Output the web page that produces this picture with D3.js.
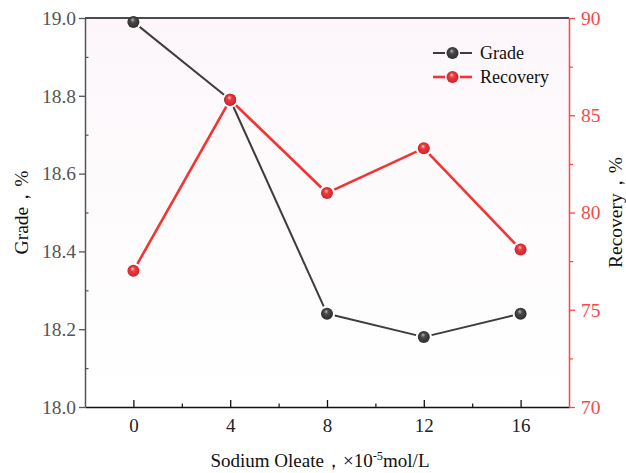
<!DOCTYPE html>
<html>
<head>
<meta charset="utf-8">
<script src="https://cdn.jsdelivr.net/npm/d3@7"></script>
<style>
  html, body { margin: 0; padding: 0; background: #fff; }
  svg text { font-family: "Liberation Serif", "Times New Roman", "DejaVu Serif", serif; }
</style>
</head>
<body>
<svg id="chart" width="626" height="473"></svg>
<script>
// Dosage of sodium oleate (×10^-5 mol/L)
const dosage = [0, 4, 8, 12, 16];
// Concentrate grade, %
const grade = [18.99, 18.79, 18.24, 18.18, 18.24];
// Recovery, %
const recovery = [77.0, 85.8, 81.0, 83.3, 78.1];

const xTicks = [0, 4, 8, 12, 16];
const gradeTicks = [18.0, 18.2, 18.4, 18.6, 18.8, 19.0];
const recoveryTicks = [70, 75, 80, 85, 90];
const seriesNames = ["Grade", "Recovery"];

const FONT = '"Liberation Serif", "Times New Roman", "DejaVu Serif", serif';
const svg = d3.select("#chart");
const m = { left: 85, right: 569, top: 18, bottom: 407 };

const x = d3.scaleLinear().domain([-2, 18]).range([m.left, m.right]);
const yL = d3.scaleLinear().domain([18.0, 19.0]).range([m.bottom, m.top]);
const yR = d3.scaleLinear().domain([70, 90]).range([m.bottom, m.top]);

const greyCol = "#3d3d3d";
const redCol = "#f23434";
const axisRed = "#f74848";

// Plot background: faint pink fading to white
const defs = svg.append("defs");
const bg = defs.append("linearGradient").attr("id", "bgGrad")
  .attr("x1", 0).attr("y1", 0).attr("x2", 0).attr("y2", 1);
bg.append("stop").attr("offset", "0%").attr("stop-color", "#fcf6fa");
bg.append("stop").attr("offset", "55%").attr("stop-color", "#fefcfd");
bg.append("stop").attr("offset", "100%").attr("stop-color", "#ffffff");

function sphere(id, base, light, dark) {
  const g = defs.append("radialGradient").attr("id", id)
    .attr("cx", "50%").attr("cy", "50%").attr("r", "55%")
    .attr("fx", "42%").attr("fy", "30%");
  g.append("stop").attr("offset", "0%").attr("stop-color", light);
  g.append("stop").attr("offset", "35%").attr("stop-color", base);
  g.append("stop").attr("offset", "100%").attr("stop-color", dark);
}
sphere("ballGrey", "#4a4a4a", "#b8b8b8", "#2a2a2a");
sphere("ballRed", "#ec3a3e", "#ffc4c4", "#c8222a");

svg.append("rect")
  .attr("x", m.left).attr("y", m.top)
  .attr("width", m.right - m.left).attr("height", m.bottom - m.top)
  .attr("fill", "url(#bgGrad)");

// Bottom axis: ticks pointing inward
const xAxis = svg.append("g").attr("transform", `translate(0,${m.bottom})`)
  .call(d3.axisBottom(x).tickValues(xTicks).tickSize(-7).tickSizeOuter(0).tickFormat(d3.format("d")));
xAxis.attr("font-family", FONT);
xAxis.select(".domain").attr("stroke", "#111").attr("stroke-width", 1.5);
xAxis.selectAll(".tick line").attr("stroke", "#111").attr("stroke-width", 1.3);
xAxis.selectAll(".tick text").attr("y", 12).attr("dy", "0.71em")
  .attr("font-size", 19).attr("fill", "#222");
svg.append("g").attr("transform", `translate(0,${m.bottom})`)
  .call(d3.axisBottom(x).tickValues([2, 6, 10, 14]).tickSize(-3.5).tickSizeOuter(0).tickFormat(""))
  .call(g => g.select(".domain").remove())
  .selectAll(".tick line").attr("stroke", "#111").attr("stroke-width", 1.2);

// Top frame line
svg.append("line").attr("x1", m.left).attr("x2", m.right)
  .attr("y1", m.top).attr("y2", m.top).attr("stroke", "#111").attr("stroke-width", 1.5);

// Left axis (grade)
const yAxisL = svg.append("g").attr("transform", `translate(${m.left},0)`)
  .call(d3.axisLeft(yL).tickValues(gradeTicks).tickSize(6).tickSizeOuter(0).tickFormat(d3.format(".1f")));
yAxisL.attr("font-family", FONT);
yAxisL.select(".domain").attr("stroke", "#555").attr("stroke-width", 1.5);
yAxisL.selectAll(".tick line").attr("stroke", "#555").attr("stroke-width", 1.3);
yAxisL.selectAll(".tick text").attr("x", -9)
  .attr("font-size", 19.5).attr("fill", "#555");
svg.append("g").attr("transform", `translate(${m.left},0)`)
  .call(d3.axisLeft(yL).tickValues([18.1, 18.3, 18.5, 18.7, 18.9]).tickSize(-3.5).tickSizeOuter(0).tickFormat(""))
  .call(g => g.select(".domain").remove())
  .selectAll(".tick line").attr("stroke", "#555").attr("stroke-width", 1.2);

// Right axis (recovery)
const yAxisR = svg.append("g").attr("transform", `translate(${m.right},0)`)
  .call(d3.axisRight(yR).tickValues(recoveryTicks).tickSize(6).tickSizeOuter(0).tickFormat(d3.format("d")));
yAxisR.attr("font-family", FONT);
yAxisR.select(".domain").attr("stroke", axisRed).attr("stroke-width", 1.5);
yAxisR.selectAll(".tick line").attr("stroke", axisRed).attr("stroke-width", 1.3);
yAxisR.selectAll(".tick text").attr("x", 12)
  .attr("font-size", 19.5).attr("fill", axisRed);
svg.append("g").attr("transform", `translate(${m.right},0)`)
  .call(d3.axisRight(yR).tickValues([72.5, 77.5, 82.5, 87.5]).tickSize(4).tickSizeOuter(0).tickFormat(""))
  .call(g => g.select(".domain").remove())
  .selectAll(".tick line").attr("stroke", axisRed).attr("stroke-width", 1.2);

// Axis titles
svg.append("text")
  .attr("transform", `translate(28,${(m.top + m.bottom) / 2}) rotate(-90)`)
  .attr("text-anchor", "middle").attr("font-size", 19.5).attr("fill", "#111")
  .text("Grade，%");
svg.append("text")
  .attr("transform", `translate(622,${(m.top + m.bottom) / 2}) rotate(-90)`)
  .attr("text-anchor", "middle").attr("font-size", 19.5).attr("fill", "#111")
  .text("Recovery，%");
const xt = svg.append("text")
  .attr("x", 320).attr("y", 467)
  .attr("text-anchor", "middle").attr("font-size", 19).attr("fill", "#111");
xt.append("tspan").text("Sodium Oleate，×10");
xt.append("tspan").attr("dy", -7).attr("font-size", 12.5).text("-5");
xt.append("tspan").attr("dy", 7).text("mol/L");

// Series: line segments stop short of each marker
const R = 6, GAP = 2;
function drawSeries(vals, yScale, col, width, ball) {
  const pts = dosage.map((d, i) => [x(d), yScale(vals[i])]);
  const g = svg.append("g");
  for (let i = 0; i < pts.length - 1; i++) {
    const [x1, y1] = pts[i], [x2, y2] = pts[i + 1];
    const len = Math.hypot(x2 - x1, y2 - y1);
    const ux = (x2 - x1) / len, uy = (y2 - y1) / len;
    const c = R + GAP;
    g.append("line")
      .attr("x1", x1 + ux * c).attr("y1", y1 + uy * c)
      .attr("x2", x2 - ux * c).attr("y2", y2 - uy * c)
      .attr("stroke", col).attr("stroke-width", width);
  }
  g.selectAll("circle").data(pts).join("circle")
    .attr("cx", d => d[0]).attr("cy", d => d[1]).attr("r", R)
    .attr("fill", `url(#${ball})`);
}
drawSeries(grade, yL, greyCol, 2, "ballGrey");
drawSeries(recovery, yR, redCol, 2.6, "ballRed");

// Legend
const legend = svg.append("g");
const legendItems = [
  { name: seriesNames[0], col: greyCol, w: 2, ball: "ballGrey", y: 53 },
  { name: seriesNames[1], col: redCol, w: 2.6, ball: "ballRed", y: 77 }
];
legendItems.forEach(it => {
  legend.append("line").attr("x1", 433).attr("x2", 445).attr("y1", it.y).attr("y2", it.y)
    .attr("stroke", it.col).attr("stroke-width", it.w);
  legend.append("line").attr("x1", 460).attr("x2", 472).attr("y1", it.y).attr("y2", it.y)
    .attr("stroke", it.col).attr("stroke-width", it.w);
  legend.append("circle").attr("cx", 452.5).attr("cy", it.y).attr("r", R)
    .attr("fill", `url(#${it.ball})`);
  legend.append("text").attr("x", 480).attr("y", it.y + 6)
    .attr("font-size", 18).attr("fill", "#111").text(it.name);
});
</script>
</body>
</html>
